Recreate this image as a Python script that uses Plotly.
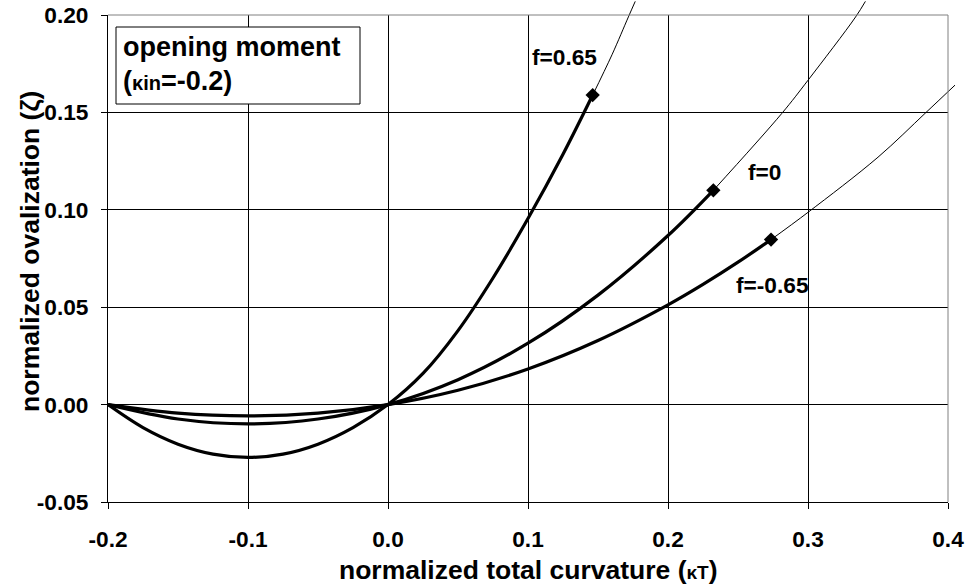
import plotly.graph_objects as go

# ---- data ----
# f = 0.65 (solid thick part, up to the marker)
k_p065 = [-0.2, -0.175, -0.15, -0.125, -0.1, -0.075, -0.05, -0.025, 0.0, 0.025, 0.05, 0.075, 0.1, 0.125, 0.1462]
z_p065 = [0.0, -0.0118, -0.0203, -0.0254, -0.0271, -0.0254, -0.0203, -0.0118, 0.0, 0.016, 0.038, 0.065, 0.0955, 0.1285, 0.1589]
# f = 0
k_0 = [-0.2, -0.15, -0.1, -0.05, 0.0, 0.05, 0.1, 0.15, 0.2, 0.2324]
z_0 = [0.0, -0.0074, -0.0099, -0.0074, 0.0, 0.0128, 0.0315, 0.0562, 0.0868, 0.110]
# f = -0.65
k_m065 = [-0.2, -0.15, -0.1, -0.05, 0.0, 0.05, 0.1, 0.15, 0.2, 0.225, 0.25, 0.2736]
z_m065 = [0.0, -0.0044, -0.0058, -0.0044, 0.0, 0.0074, 0.0183, 0.0329, 0.0512, 0.0617, 0.0731, 0.0847]

# thin continuations beyond the markers
k_p065_ext = [0.1462, 0.16, 0.1717, 0.1766]
z_p065_ext = [0.1589, 0.1796, 0.1990, 0.2070]
k_0_ext = [0.2324, 0.2812, 0.3, 0.334, 0.341]
z_0_ext = [0.110, 0.1494, 0.1665, 0.1990, 0.2070]
k_m065_ext = [0.2736, 0.3, 0.35, 0.3836, 0.405]
z_m065_ext = [0.0847, 0.0987, 0.127, 0.1495, 0.164]

# end-point markers
k_mark = [0.1462, 0.2324, 0.2736]
z_mark = [0.1589, 0.110, 0.0847]

labels = ["f=0.65", "f=0", "f=-0.65"]
label_k = [0.1264, 0.2686, 0.2743]
label_z = [0.1784, 0.1193, 0.0612]

x_ticks = [-0.2, -0.1, 0.0, 0.1, 0.2, 0.3, 0.4]
y_ticks = [-0.05, 0.0, 0.05, 0.10, 0.15, 0.20]

FONT = "Liberation Sans, Arial, sans-serif"
FS = 22.7
FT = 26.5

# layout geometry (pixels)
W, H = 967, 588
L, R, T, B = 108, 7, 0, 86
pw, ph = W - L - R, H - T - B          # 852 x 502 extended area
main_w, main_h = 840, 487              # main plot area inside it
xpx_per = main_w / 0.6
ypx_per = main_h / 0.25

fig = go.Figure()

thick = dict(color="black", width=3.2)
thin = dict(color="black", width=1)
for kx, zy in [(k_p065, z_p065), (k_0, z_0), (k_m065, z_m065)]:
    fig.add_trace(go.Scatter(x=kx, y=zy, mode="lines", line=dict(shape="spline", smoothing=1.0, **thick),
                             xaxis="x2", yaxis="y2", showlegend=False, hoverinfo="skip"))
for kx, zy in [(k_p065_ext, z_p065_ext), (k_0_ext, z_0_ext), (k_m065_ext, z_m065_ext)]:
    fig.add_trace(go.Scatter(x=kx, y=zy, mode="lines", line=dict(shape="spline", smoothing=1.0, **thin),
                             xaxis="x2", yaxis="y2", showlegend=False, hoverinfo="skip"))
fig.add_trace(go.Scatter(x=k_mark, y=z_mark, mode="markers",
                         marker=dict(symbol="diamond", size=11, color="black"),
                         xaxis="x2", yaxis="y2", showlegend=False, hoverinfo="skip"))

axfont = dict(family=FONT, size=FS, color="black", weight="bold")

fig.update_layout(
    width=W, height=H,
    margin=dict(l=L, r=R, t=T, b=B, pad=0, autoexpand=False),
    paper_bgcolor="white", plot_bgcolor="rgba(0,0,0,0)",
    xaxis=dict(domain=[0, main_w / pw], range=[-0.2, 0.4], tickvals=x_ticks,
               ticktext=[f"{v:.1f}" for v in x_ticks], tickfont=axfont,
               showgrid=True, gridcolor="black", gridwidth=1, zeroline=False,
               showline=True, linecolor="black", linewidth=1, automargin=False,
               ticks="outside", ticklen=6, tickcolor="black", anchor="y",
               ticklabelstandoff=11),
    yaxis=dict(domain=[0, main_h / ph], range=[-0.05, 0.2], tickvals=y_ticks,
               ticktext=[f"{v:.2f}" for v in y_ticks], tickfont=axfont,
               showgrid=True, gridcolor="black", gridwidth=1, zeroline=False,
               showline=True, linecolor="black", linewidth=1, automargin=False,
               ticks="outside", ticklen=6, tickcolor="black", anchor="x",
               ticklabelstandoff=8),
    xaxis2=dict(domain=[0, 1], range=[-0.2, -0.2 + pw / xpx_per], visible=False, anchor="y2"),
    yaxis2=dict(domain=[0, 1], range=[-0.05, -0.05 + ph / ypx_per], visible=False, anchor="x2"),
)

# plot-area frame (grey, top and right)
fig.add_shape(type="line", xref="x domain", yref="y domain", x0=0, x1=1, y0=1, y1=1,
              line=dict(color="#808080", width=1), layer="above")
fig.add_shape(type="line", xref="x domain", yref="y domain", x0=1, x1=1, y0=0, y1=1,
              line=dict(color="#808080", width=1), layer="above")

# text box
fig.add_shape(type="rect", xref="x domain", yref="y domain",
              x0=(116 - L) / main_w, x1=(360 - L) / main_w,
              y0=(502 - 104) / main_h, y1=(502 - 27) / main_h,
              line=dict(color="black", width=1), fillcolor="white", layer="above")
fig.add_annotation(xref="x domain", yref="y domain", x=(121 - L) / main_w, y=(502 - 47) / main_h,
                   text="opening moment", showarrow=False, xanchor="left", yanchor="middle",
                   font=dict(family=FONT, size=27, color="black", weight="bold"))
fig.add_annotation(xref="x domain", yref="y domain", x=(121 - L) / main_w, y=(502 - 81) / main_h,
                   text="(<span style='font-size:20px'>κin</span>=-0.2)", showarrow=False,
                   xanchor="left", yanchor="middle",
                   font=dict(family=FONT, size=27, color="black", weight="bold"))

# curve labels
for t, lx, ly in zip(labels, label_k, label_z):
    fig.add_annotation(x=lx, y=ly, xref="x", yref="y", text=t, showarrow=False,
                       font=dict(family=FONT, size=FS, color="black", weight="bold"))

# axis titles
fig.add_annotation(xref="paper", yref="paper", x=(528 - L) / pw, y=(502 - 570) / ph,
                   text="normalized total curvature (<span style='font-size:19px'>κT</span>)",
                   showarrow=False, xanchor="center", yanchor="middle",
                   font=dict(family=FONT, size=FT, color="black", weight="bold"))
fig.add_annotation(xref="paper", yref="paper", x=(30 - L) / pw, y=(502 - 252) / ph,
                   text="normalized ovalization (ζ)", showarrow=False, textangle=-90,
                   xanchor="center", yanchor="middle",
                   font=dict(family=FONT, size=FT, color="black", weight="bold"))

fig.write_html("out.html", config={"displayModeBar": False},
               post_script="document.body.style.margin='0';document.body.style.padding='0';")
